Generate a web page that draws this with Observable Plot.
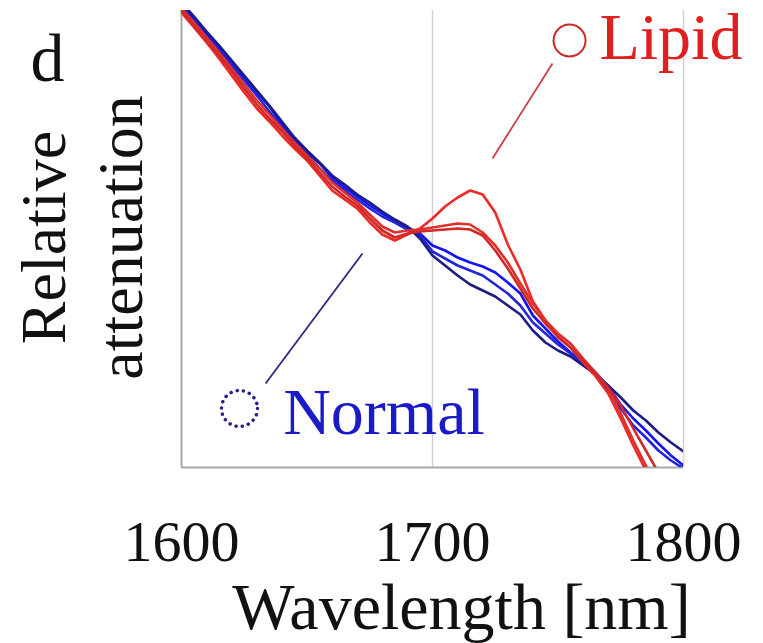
<!DOCTYPE html>
<html><head><meta charset="utf-8">
<script src="https://cdn.jsdelivr.net/npm/d3@7"></script>
<script src="https://cdn.jsdelivr.net/npm/@observablehq/plot@0.6"></script>
<style>html,body{margin:0;padding:0;background:#fff}</style>
</head><body><div id="chart"></div>
<script>
// Wavelength grid [nm]
const wavelengths = [1600,1605,1610,1615,1620,1625,1630,1635,1640,1645,1650,1655,1660,1665,1670,1675,1680,1685,1690,1695,
  1700,1705,1710,1715,1720,1725,1730,1735,1740,1745,1750,1755,1760,1765,1770,1775,1780,1785,1790,1795,1800];

// Relative attenuation (arbitrary units)
const lipid1 = [4.55,4.40,4.25,4.09,3.92,3.75,3.59,3.46,3.32,3.19,3.07,2.92,2.77,2.68,2.59,2.45,2.33,2.27,2.33,2.39,
  2.49,2.61,2.70,2.77,2.73,2.55,2.23,1.98,1.66,1.47,1.30,1.20,1.05,0.91,0.74,0.49,0.22,-0.03,-0.28,-0.53,-0.78];
const lipid2 = [4.59,4.45,4.30,4.15,3.99,3.83,3.67,3.53,3.39,3.25,3.12,2.99,2.85,2.75,2.65,2.53,2.41,2.35,2.37,2.38,
  2.40,2.42,2.44,2.43,2.35,2.22,2.05,1.84,1.64,1.47,1.34,1.24,1.09,0.95,0.79,0.54,0.27,0.02,-0.23,-0.48,-0.73];
const lipid3 = [4.57,4.42,4.27,4.12,3.96,3.79,3.63,3.49,3.36,3.22,3.09,2.95,2.81,2.71,2.62,2.49,2.37,2.30,2.34,2.36,
  2.37,2.38,2.39,2.38,2.32,2.17,1.99,1.79,1.59,1.44,1.31,1.20,1.07,0.94,0.80,0.62,0.39,0.17,-0.05,-0.28,-0.51];
const normal1 = [4.63,4.49,4.34,4.20,4.05,3.90,3.75,3.61,3.43,3.27,3.15,3.04,2.90,2.80,2.71,2.62,2.54,2.47,2.40,2.34,
  2.22,2.17,2.10,2.05,2.01,1.95,1.85,1.74,1.52,1.39,1.26,1.15,1.05,0.95,0.81,0.63,0.49,0.37,0.24,0.12,0.02];
const normal2 = [4.60,4.46,4.31,4.17,4.02,3.87,3.72,3.56,3.40,3.24,3.12,2.99,2.87,2.77,2.68,2.59,2.51,2.45,2.38,2.32,
  2.16,2.09,2.02,1.97,1.92,1.83,1.74,1.62,1.45,1.34,1.23,1.14,1.04,0.94,0.77,0.59,0.42,0.30,0.17,0.07,-0.01];
const normal3 = [4.65,4.51,4.36,4.22,4.07,3.92,3.77,3.62,3.46,3.30,3.17,3.05,2.92,2.83,2.73,2.65,2.56,2.48,2.41,2.29,
  2.12,2.02,1.92,1.83,1.77,1.71,1.62,1.53,1.37,1.25,1.17,1.11,1.02,0.93,0.82,0.70,0.57,0.47,0.35,0.25,0.16];

const seriesNames = ["normal1","normal2","normal3","lipid1","lipid2","lipid3"];
const seriesValues = [normal1, normal2, normal3, lipid1, lipid2, lipid3];
const seriesColors = ["#1414f0", "#2424d8", "#1c1c86", "#ee2a26", "#e0302c", "#cf2a28"];

const xTicks = [1600, 1700, 1800];
const xLabel = "Wavelength [nm]";
const yLabelLines = ["Relative", "attenuation"];
const panelLetter = "d";

// Annotation anchors (data coordinates)
const lipidLabel = {text: "Lipid", x: 1766.5, y: 4.30};
const lipidCircle = {x: 1754.6, y: 4.27};
const lipidLeader = {x1: 1747.8, y1: 4.04, x2: 1723.9, y2: 3.09};
const normalLabel = {text: "Normal", x: 1640.5, y: 0.55};
const normalCircle = {x: 1623.1, y: 0.59};
const normalLeader = {x1: 1633.5, y1: 0.84, x2: 1672.1, y2: 2.14};

const rows = [];
seriesNames.forEach((name, k) => {
  wavelengths.forEach((w, i) => rows.push({series: name, wavelength: w, value: seriesValues[k][i]}));
});

const font = "'Liberation Serif', 'DejaVu Serif', serif";

const chart = Plot.plot({
  width: 763,
  height: 643,
  marginLeft: 181,
  marginRight: 80,
  marginTop: 10,
  marginBottom: 176,
  style: {fontFamily: font, background: "white", overflow: "visible"},
  x: {domain: [1600, 1800]},
  y: {domain: [0, 4.57], axis: null},
  color: {domain: seriesNames, range: seriesColors},
  marks: [
    Plot.ruleX([1700, 1800], {stroke: "#d2d2d2", strokeWidth: 1.5}),
    Plot.ruleX([1600], {stroke: "#a8a8a8", strokeWidth: 2}),
    Plot.ruleY([0], {stroke: "#a8a8a8", strokeWidth: 2}),
    Plot.line(rows, {x: "wavelength", y: "value", z: "series", stroke: "series", strokeWidth: 2.6, curve: "linear", clip: true}),
    Plot.link([lipidLeader], {x1: "x1", y1: "y1", x2: "x2", y2: "y2", stroke: "#c84040", strokeWidth: 1.8}),
    Plot.link([normalLeader], {x1: "x1", y1: "y1", x2: "x2", y2: "y2", stroke: "#2a2a80", strokeWidth: 1.8}),
    Plot.dot([lipidCircle], {x: "x", y: "y", r: 16, stroke: "#cc2a2a", strokeWidth: 2, fill: "none"}),
    Plot.dot([normalCircle], {x: "x", y: "y", r: 18, stroke: "#22228a", strokeWidth: 3.5, fill: "none", strokeDasharray: "0.1 6.2", strokeLinecap: "round"}),
    Plot.text([lipidLabel], {x: "x", y: "y", text: "text", textAnchor: "start", lineAnchor: "middle", fontSize: 66, fill: "#e02020"}),
    Plot.text([normalLabel], {x: "x", y: "y", text: "text", textAnchor: "start", lineAnchor: "middle", fontSize: 66, fill: "#1a1ac8"}),
    Plot.axisX({ticks: xTicks, tickSize: 0, tickPadding: 52, fontSize: 58, label: null, tickFormat: d => String(d), color: "#111"}),
    Plot.text([xLabel], {frameAnchor: "bottom", textAnchor: "middle", dx: 29, dy: 140, lineAnchor: "middle", fontSize: 66, fill: "#111"}),
    Plot.text([yLabelLines[0]], {frameAnchor: "left", textAnchor: "middle", rotate: -90, dx: -137, dy: -1.5, lineAnchor: "middle", fontSize: 64, fill: "#111"}),
    Plot.text([yLabelLines[1]], {frameAnchor: "left", textAnchor: "middle", rotate: -90, dx: -60, dy: -1.5, lineAnchor: "middle", fontSize: 64, fill: "#111"}),
    Plot.text([panelLetter], {frameAnchor: "top-left", textAnchor: "middle", dx: -134, dy: 49, lineAnchor: "middle", fontSize: 68, fill: "#111"})
  ]
});
document.getElementById("chart").appendChild(chart);
</script>
</body></html>
